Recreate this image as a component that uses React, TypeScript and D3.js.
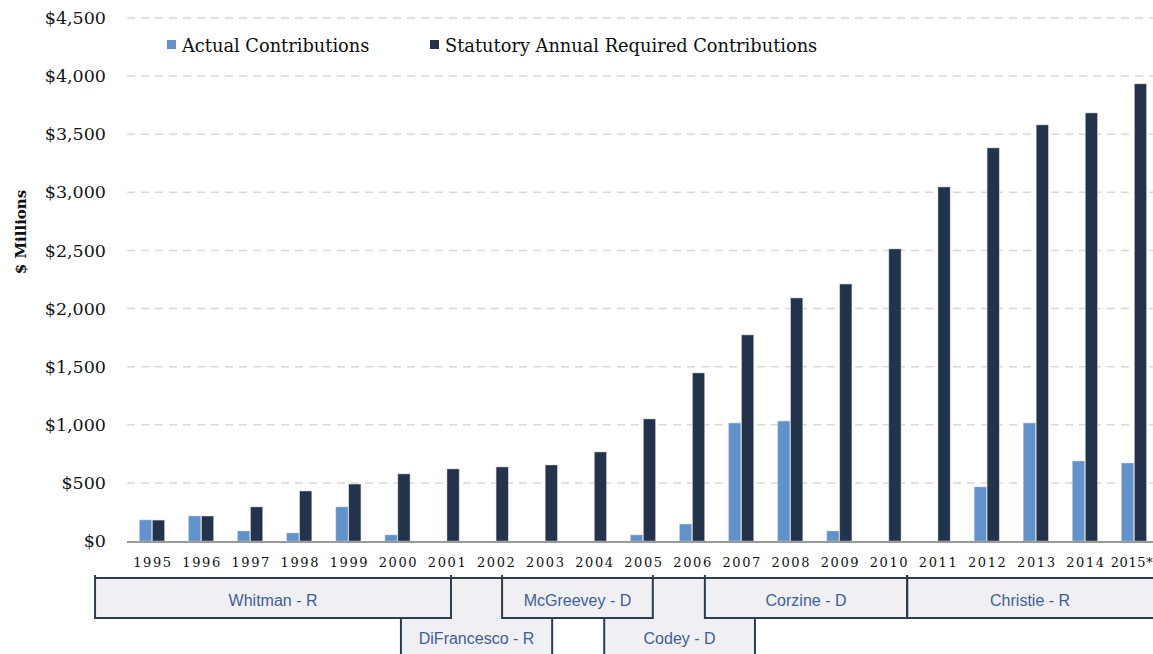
import React from 'react';
import * as d3 from 'd3';

const years = ['1995', '1996', '1997', '1998', '1999', '2000', '2001', '2002', '2003', '2004', '2005',
  '2006', '2007', '2008', '2009', '2010', '2011', '2012', '2013', '2014', '2015*'];
const actual = [181, 215, 86, 69, 293, 52, 0, 0, 0, 0, 52, 146, 1015, 1032, 86, 0, 0, 465, 1015, 688, 671];
const statutory = [180, 215, 293, 430, 490, 577, 620, 637, 654, 766, 1050, 1446, 1773, 2091, 2211, 2513,
  3046, 3382, 3580, 3683, 3933];
const yTicks = [0, 500, 1000, 1500, 2000, 2500, 3000, 3500, 4000, 4500];
const seriesNames = ['Actual Contributions', 'Statutory Annual Required Contributions'];
const seriesColors = ['#6192c9', '#22334b'];

// governor terms, in fractional year positions on the year axis
const governorsTop = [
  { name: 'Whitman - R', start: 1993.84, end: 2001.09 },
  { name: 'McGreevey - D', start: 2002.13, end: 2005.2 },
  { name: 'Corzine - D', start: 2006.26, end: 2010.38 },
  { name: 'Christie - R', start: 2010.38, end: 2016.5 },
];
const governorsBottom = [
  { name: 'DiFrancesco - R', start: 2000.07, end: 2003.15 },
  { name: 'Codey - D', start: 2004.21, end: 2007.28 },
];

const W = 1153;
const H = 654;
const serif = '"DejaVu Serif", serif';
const sans = '"Liberation Sans", Arial, sans-serif';

export default function App() {
  const x0 = d3.scaleBand<string>().domain(years).range([127.45, 1158.55]).paddingInner(0.49).paddingOuter(0.245);
  const x1 = d3.scaleBand<number>().domain([0, 1]).range([0, x0.bandwidth()]).paddingInner(0.06);
  const y = d3.scaleLinear().domain([0, 4500]).range([541, 18]);
  const step = x0.step();
  const c0 = (x0(years[0]) as number) + x0.bandwidth() / 2;
  const tx = d3.scaleLinear().domain([1995, 2015]).range([c0, c0 + step * 20]);
  const fmt = d3.format('$,');

  const rowTop = 578;
  const rowMid = 618;
  const rowBot = 662;
  const stroke = '#2d3c4e';
  const fill = '#efeff4';

  return (
    <svg width={W} height={H} style={{ position: 'absolute', left: 0, top: 0, background: '#fff' }}>
      {/* grid */}
      {yTicks.filter(t => t > 0).map(t => (
        <line key={t} x1={127} x2={W} y1={y(t)} y2={y(t)} stroke="#d9d9d9" strokeWidth={1.5} strokeDasharray="8,6" />
      ))}
      {yTicks.map(t => (
        <text key={t} x={106} y={y(t)} dy="0.35em" textAnchor="end" fontFamily={serif} fontSize={17.5} fill="#141414">
          {fmt(t)}
        </text>
      ))}
      <text transform={`translate(26,232) rotate(-90)`} textAnchor="middle" fontFamily={serif} fontWeight="bold"
        fontSize={15} fill="#111">$ Millions</text>

      {/* bars */}
      {years.map((yr, i) => (
        <g key={yr} transform={`translate(${x0(yr)},0)`}>
          {[actual[i], statutory[i]].map((v, s) => v > 0 && (
            <rect key={s} x={x1(s)} y={y(v)} width={x1.bandwidth()} height={y(0) - y(v)} fill={seriesColors[s]}
              stroke="#c8ccd2" strokeWidth={0.5} />
          ))}
        </g>
      ))}
      <line x1={127} x2={W} y1={y(0) + 1} y2={y(0) + 1} stroke="#9a9a9a" strokeWidth={2} />
      {years.map((yr, i) => (
        <text key={yr} x={(x0(yr) as number) + x0.bandwidth() / 2 + (i === years.length - 1 ? -2 : 1)} y={567}
          textAnchor="middle" fontFamily={serif} fontSize={13} letterSpacing={i === years.length - 1 ? 0.6 : 1.6}
          fill="#111">{yr}</text>
      ))}

      {/* legend */}
      {seriesNames.map((n, i) => {
        const lx = i === 0 ? 167 : 430;
        return (
          <g key={n}>
            <rect x={lx} y={40} width={9} height={9} fill={seriesColors[i]} />
            <text x={lx + 15} y={51.5} fontFamily={serif} fontSize={17.8} fill="#0d0d0d">{n}</text>
          </g>
        );
      })}

      {/* governor timeline */}
      <rect x={tx(governorsTop[0].start)} y={rowTop} width={W - tx(governorsTop[0].start) + 10} height={rowMid - rowTop} fill={fill} />
      {governorsBottom.map(g => (
        <g key={g.name}>
          <rect x={tx(g.start)} y={rowMid - 1} width={tx(g.end) - tx(g.start)} height={rowBot - rowMid} fill={fill} />
          <line x1={tx(g.start)} x2={tx(g.start)} y1={rowMid} y2={rowBot} stroke={stroke} strokeWidth={2} />
          <line x1={tx(g.end)} x2={tx(g.end)} y1={rowMid} y2={rowBot} stroke={stroke} strokeWidth={2} />
          <text x={(tx(g.start) + tx(g.end)) / 2} y={644} textAnchor="middle" fontFamily={sans} fontSize={16}
            fill="#3e5f95">{g.name}</text>
        </g>
      ))}
      <line x1={tx(governorsTop[0].start)} x2={W} y1={rowTop} y2={rowTop} stroke={stroke} strokeWidth={2} />
      {governorsTop.map(g => (
        <g key={g.name}>
          <line x1={tx(g.start)} x2={tx(g.start)} y1={rowTop - 3} y2={rowMid + 1} stroke={stroke} strokeWidth={2} />
          <line x1={tx(g.end)} x2={tx(g.end)} y1={rowTop - 3} y2={rowMid + 1} stroke={stroke} strokeWidth={2} />
          <line x1={tx(g.start)} x2={tx(g.end)} y1={rowMid} y2={rowMid} stroke={stroke} strokeWidth={2} />
          <text x={(tx(g.start) + Math.min(tx(g.end), W)) / 2} y={606} textAnchor="middle" fontFamily={sans}
            fontSize={16} fill="#3e5f95">{g.name}</text>
        </g>
      ))}
    </svg>
  );
}
